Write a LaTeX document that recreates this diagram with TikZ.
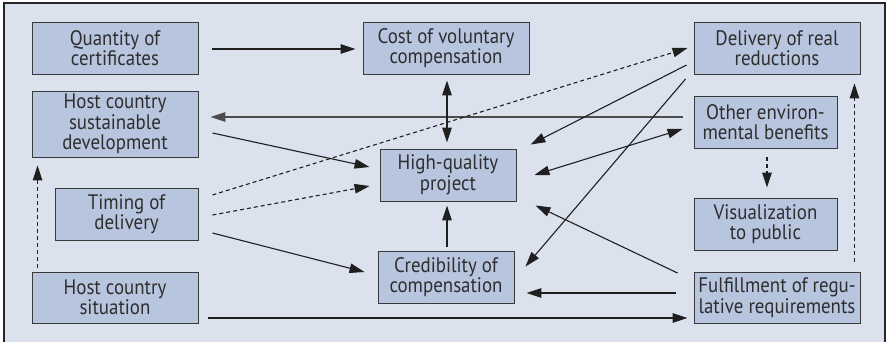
\documentclass[tikz,border=0pt]{standalone}
\usepackage{fontspec}
\setmainfont[FakeStretch=0.9]{PT Sans}
\usetikzlibrary{arrows.meta,calc}
\definecolor{bgc}{HTML}{DCE1EE}
\definecolor{boxc}{HTML}{B8C5DE}
\definecolor{edgec}{HTML}{3A3A3A}
\begin{document}
\begin{tikzpicture}[x=1pt,y=-1pt,
  box/.style={draw=edgec,line width=0.9pt,fill=boxc,align=center,inner sep=0pt,
    font=\fontsize{21}{20.5}\selectfont,text=black!82},
  con/.style={line width=1.1pt,draw=black!88,-{Triangle[length=15pt,width=9.5pt]}},
  dcon/.style={con,dashed,dash pattern=on 4pt off 3pt},
  bcon/.style={con,{Triangle[length=15pt,width=9.5pt]}-{Triangle[length=15pt,width=9.5pt]}}]
\useasboundingbox (0,0) rectangle (889,342);
\fill[bgc] (4,3) rectangle (885,342);
\draw[line width=1.2pt,black!85] (4,345) -- (4,3) -- (885,3) -- (885,345);
% nodes
\node[box,minimum width=166pt,minimum height=52pt] (quant) at (115,48) {Quantity of\\certificates};
\node[box,minimum width=166pt,minimum height=66pt] (hsd) at (115,124) {Host country\\sustainable\\development};
\node[box,minimum width=143pt,minimum height=52pt] (timing) at (126.5,214) {Timing of\\delivery};
\node[box,minimum width=166pt,minimum height=51pt] (hcs) at (115,297.5) {Host country\\situation};
\node[box,minimum width=166pt,minimum height=52pt] (cost) at (446,48) {Cost of voluntary\\compensation};
\node[box,minimum width=136pt,minimum height=52pt] (hq) at (448,175) {High-quality\\project};
\node[box,minimum width=136pt,minimum height=52pt] (cred) at (446,277) {Credibility of\\compensation};
\node[box,minimum width=166pt,minimum height=52pt] (deliv) at (777,48) {Delivery of real\\reductions};
\node[box,minimum width=143pt,minimum height=52pt] (other) at (765.5,122) {Other environ-\\mental benefits};
\node[box,minimum width=143pt,minimum height=52pt] (vis) at (765.5,224) {Visualization\\to public};
\node[box,minimum width=166pt,minimum height=51pt] (fulf) at (777,297.5) {Fulfillment of regu-\\lative requirements};
% connectors
\draw[con] ($(quant.east)+(14,1)$) -- ($(cost.west)+(-7,1)$);
\draw[con,line width=1.4pt,draw=black!70] ($(other.west)+(-11,-5)$) -- ($(hsd.east)+(12,-7)$);
\draw[con] ($(hsd.east)+(14,9)$) -- ($(hq.west)+(-10,-8)$);
\draw[dcon] ($(timing.east)+(14,-19)$) -- ($(deliv.west)+(-6,0)$);
\draw[dcon] ($(timing.east)+(14,1)$) -- ($(hq.west)+(-10,11)$);
\draw[con] ($(timing.east)+(14,19)$) -- ($(cred.west)+(-13,-5)$);
\draw[con] ($(hcs.east)+(10,20.5)$) -- ($(fulf.west)+(-6,20.5)$);
\draw[dcon] ($(hcs.north west)+(6,-4)$) -- ($(hsd.south west)+(6,8)$);
\draw[bcon] ($(cost.south)+(1,6)$) -- ($(hq.north)+(-1,-6)$);
\draw[con] ($(cred.north)+(1,-4)$) -- ($(hq.south)+(-1,4)$);
\draw[con] ($(deliv.west)+(-7,17)$) -- ($(hq.north east)+(14,-4)$);
\draw[con] ($(deliv.west)+(-8,31)$) -- ($(cred.north east)+(11,16)$);
\draw[bcon] ($(hq.east)+(18,0)$) -- ($(other.west)+(-11,7)$);
\draw[con] ($(fulf.west)+(-16,-24.5)$) -- ($(hq.south east)+(19,4)$);
\draw[con] ($(fulf.west)+(-18,-4.5)$) -- ($(cred.east)+(12,16)$);
\draw[dcon] ($(other.south)+(1.5,9)$) -- ($(vis.north)+(1.5,-10)$);
\draw[dcon] ($(fulf.north east)+(-6,-10)$) -- ($(deliv.south east)+(-6,9)$);
\end{tikzpicture}
\end{document}
